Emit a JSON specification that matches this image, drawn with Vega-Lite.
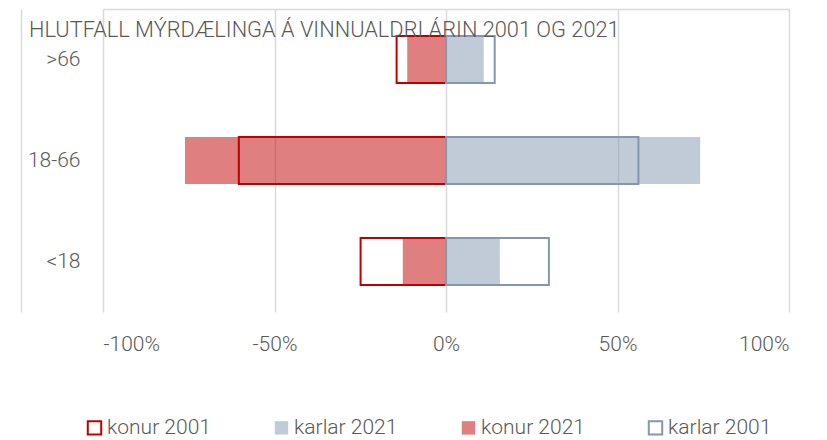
{
  "$schema": "https://vega.github.io/schema/vega-lite/v6.json",
  "width": 686,
  "height": 303,
  "autosize": {"type": "none"},
  "padding": {"left": 103, "top": 9, "right": 38, "bottom": 128},
  "background": "white",
  "title": {
    "text": "HLUTFALL MÝRDÆLINGA Á VINNUALDRI ÁRIN 2001 OG 2021",
    "anchor": "start",
    "frame": "group",
    "orient": "none",
    "dx": -74,
    "dy": 28,
    "baseline": "alphabetic",
    "fontSize": 21.8,
    "fontWeight": 300,
    "color": "#595959",
    "font": "Roboto"
  },
  "data": {
    "values": [
      {"age": ">66", "series": "konur 2021", "value": -0.113},
      {"age": ">66", "series": "karlar 2021", "value": 0.110},
      {"age": "18-66", "series": "konur 2021", "value": -0.761},
      {"age": "18-66", "series": "karlar 2021", "value": 0.741},
      {"age": "<18", "series": "konur 2021", "value": -0.126},
      {"age": "<18", "series": "karlar 2021", "value": 0.157},
      {"age": ">66", "series": "konur 2001", "value": -0.144},
      {"age": ">66", "series": "karlar 2001", "value": 0.142},
      {"age": "18-66", "series": "konur 2001", "value": -0.604},
      {"age": "18-66", "series": "karlar 2001", "value": 0.561},
      {"age": "<18", "series": "konur 2001", "value": -0.249},
      {"age": "<18", "series": "karlar 2001", "value": 0.300}
    ]
  },
  "mark": {"type": "bar", "size": 47, "strokeWidth": 2},
  "encoding": {
    "y": {
      "field": "age",
      "type": "nominal",
      "scale": {"domain": [">66", "18-66", "<18"], "paddingInner": 0, "paddingOuter": 0},
      "axis": {
        "title": null,
        "ticks": false,
        "domain": true,
        "domainColor": "#D9D9D9",
        "domainWidth": 1.5,
        "offset": 82,
        "labelPadding": -59,
        "labelFontSize": 21,
        "labelColor": "#595959",
        "labelFont": "Roboto",
        "labelFontWeight": 300
      }
    },
    "x": {
      "field": "value",
      "type": "quantitative",
      "stack": null,
      "scale": {"domain": [-1, 1], "nice": false},
      "axis": {
        "title": null,
        "orient": "top",
        "values": [-1, -0.5, 0, 0.5, 1],
        "labelExpr": "(datum.value < 0 ? '-' : '') + format(abs(datum.value) * 100, 'd') + '%'",
        "ticks": false,
        "domain": true,
        "domainColor": "#D9D9D9",
        "domainWidth": 1.5,
        "grid": true,
        "gridColor": "#D9D9D9",
        "gridWidth": 1.5,
        "labelBaseline": "middle",
        "labelPadding": -335,
        "labelFontSize": 21,
        "labelColor": "#595959",
        "labelFont": "Roboto",
        "labelFontWeight": 300
      }
    },
    "fill": {
      "field": "series",
      "type": "nominal",
      "scale": {
        "domain": ["konur 2001", "karlar 2021", "konur 2021", "karlar 2001"],
        "range": ["transparent", "rgba(132,151,176,0.5)", "rgba(192,0,0,0.5)", "transparent"]
      },
      "legend": {
        "title": null,
        "orient": "none",
        "legendX": -19,
        "legendY": 408,
        "direction": "horizontal",
        "columns": 4,
        "gridAlign": "all",
        "columnPadding": 59,
        "symbolType": "square",
        "symbolSize": 180,
        "symbolStrokeWidth": 2,
        "labelOffset": 2,
        "labelFontSize": 21,
        "labelColor": "#595959",
        "labelFont": "Roboto",
        "labelFontWeight": 300,
        "labelLimit": 300
      }
    },
    "stroke": {
      "field": "series",
      "type": "nominal",
      "scale": {
        "domain": ["konur 2001", "karlar 2021", "konur 2021", "karlar 2001"],
        "range": ["#C00000", "transparent", "transparent", "#8497B0"]
      },
      "legend": {
        "title": null,
        "orient": "none",
        "legendX": -19,
        "legendY": 408,
        "direction": "horizontal",
        "columns": 4,
        "gridAlign": "all",
        "columnPadding": 59,
        "symbolType": "square",
        "symbolSize": 180,
        "symbolStrokeWidth": 2,
        "labelOffset": 2,
        "labelFontSize": 21,
        "labelColor": "#595959",
        "labelFont": "Roboto",
        "labelFontWeight": 300,
        "labelLimit": 300
      }
    }
  },
  "config": {
    "view": {"stroke": null},
    "font": "Roboto"
  }
}
